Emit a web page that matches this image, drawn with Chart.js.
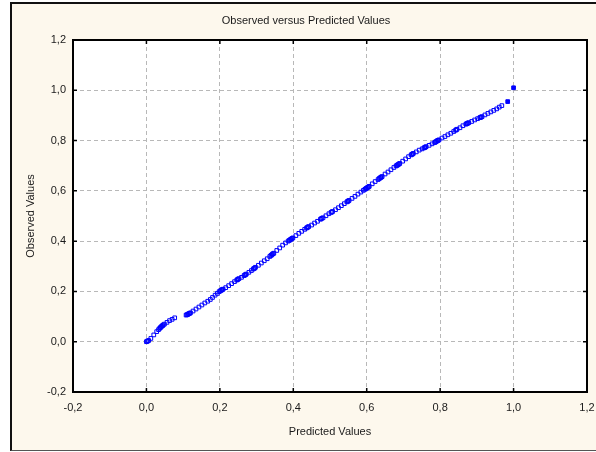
<!DOCTYPE html>
<html>
<head>
<meta charset="utf-8">
<title>Observed versus Predicted Values</title>
<script src="https://cdn.jsdelivr.net/npm/chart.js@4.4.1/dist/chart.umd.min.js"></script>
<style>
  html, body { margin: 0; padding: 0; background: #fff; overflow: hidden; }
  #panel {
    position: absolute; left: 10px; top: 2px; width: 584px; height: 446px;
    background: #fdf8ed; border-left: 2px solid #111; border-top: 2px solid #111;
    border-bottom: 1px solid #555;
  }
  #wrap { position: absolute; left: 0; top: 0; width: 596px; height: 452px; }
</style>
</head>
<body>
<div id="panel"></div>
<div id="wrap"><canvas id="chart" width="596" height="452"></canvas></div>
<script>
// Chart texts
const chartTitle = 'Observed versus Predicted Values';
const xTitle = 'Predicted Values';
const yTitle = 'Observed Values';

// Axis ranges / tick step
const axisMin = -0.2;
const axisMax = 1.2;
const tickStep = 0.2;

// Predicted values (x)
const predicted = [
  0.000, 0.002, 0.004, 0.006, 0.012, 0.020, 0.028, 0.033, 0.036, 0.038,
  0.040, 0.042, 0.044, 0.046, 0.049, 0.056, 0.063, 0.070, 0.077,
  0.108, 0.110, 0.112, 0.114, 0.116, 0.118, 0.120, 0.127, 0.135, 0.143,
  0.151, 0.159, 0.167, 0.174, 0.180, 0.187, 0.193, 0.198, 0.201, 0.203,
  0.205, 0.207, 0.209, 0.216, 0.224, 0.232, 0.240, 0.246, 0.248, 0.250,
  0.252, 0.259, 0.266, 0.268, 0.270, 0.272, 0.279, 0.286, 0.291, 0.293,
  0.295, 0.297, 0.305, 0.313, 0.321, 0.329, 0.336, 0.339, 0.341, 0.343,
  0.345, 0.347, 0.355, 0.363, 0.371, 0.379, 0.386, 0.389, 0.391, 0.393,
  0.395, 0.397, 0.399, 0.407, 0.415, 0.423, 0.431, 0.436, 0.438, 0.440,
  0.442, 0.450, 0.458, 0.466, 0.474, 0.476, 0.478, 0.481, 0.489, 0.497,
  0.503, 0.505, 0.507, 0.515, 0.523, 0.531, 0.539, 0.546, 0.548, 0.550,
  0.552, 0.560, 0.568, 0.576, 0.584, 0.591, 0.595, 0.597, 0.599, 0.601,
  0.603, 0.605, 0.607, 0.615, 0.623, 0.631, 0.634, 0.636, 0.638, 0.640,
  0.642, 0.650, 0.658, 0.666, 0.674, 0.680, 0.682, 0.684, 0.686, 0.688,
  0.690, 0.698, 0.706, 0.714, 0.721, 0.723, 0.725, 0.727, 0.735, 0.743,
  0.751, 0.756, 0.758, 0.760, 0.762, 0.770, 0.778, 0.785, 0.787, 0.789,
  0.791, 0.793, 0.795, 0.797, 0.805, 0.813, 0.821, 0.829, 0.837, 0.842,
  0.844, 0.846, 0.854, 0.862, 0.870, 0.872, 0.874, 0.876, 0.878, 0.886,
  0.894, 0.902, 0.908, 0.910, 0.912, 0.914, 0.922, 0.930, 0.938, 0.946,
  0.954, 0.961, 0.968, 0.984, 1.000
];

// Observed values (y), same order as predicted
const observed = [
  0.000, 0.002, 0.003, 0.005, 0.013, 0.027, 0.040, 0.048, 0.053, 0.056,
  0.059, 0.062, 0.064, 0.067, 0.070, 0.077, 0.084, 0.089, 0.095,
  0.106, 0.107, 0.108, 0.110, 0.112, 0.113, 0.115, 0.122, 0.130, 0.138,
  0.146, 0.154, 0.161, 0.168, 0.176, 0.185, 0.192, 0.199, 0.202, 0.204,
  0.206, 0.208, 0.209, 0.215, 0.223, 0.231, 0.239, 0.245, 0.247, 0.249,
  0.251, 0.256, 0.263, 0.265, 0.267, 0.269, 0.276, 0.283, 0.289, 0.291,
  0.293, 0.296, 0.304, 0.313, 0.322, 0.330, 0.339, 0.343, 0.345, 0.348,
  0.350, 0.352, 0.363, 0.373, 0.384, 0.393, 0.400, 0.403, 0.405, 0.407,
  0.409, 0.411, 0.413, 0.422, 0.431, 0.439, 0.447, 0.452, 0.454, 0.456,
  0.458, 0.464, 0.472, 0.479, 0.487, 0.489, 0.491, 0.493, 0.501, 0.509,
  0.514, 0.516, 0.518, 0.525, 0.533, 0.541, 0.549, 0.556, 0.558, 0.560,
  0.562, 0.570, 0.578, 0.587, 0.595, 0.602, 0.606, 0.608, 0.610, 0.612,
  0.614, 0.616, 0.618, 0.628, 0.637, 0.645, 0.649, 0.651, 0.653, 0.655,
  0.657, 0.667, 0.675, 0.684, 0.693, 0.699, 0.701, 0.703, 0.705, 0.707,
  0.709, 0.718, 0.727, 0.736, 0.743, 0.745, 0.747, 0.749, 0.755, 0.762,
  0.767, 0.771, 0.772, 0.774, 0.776, 0.781, 0.787, 0.792, 0.794, 0.796,
  0.798, 0.800, 0.801, 0.803, 0.810, 0.816, 0.823, 0.829, 0.836, 0.841,
  0.843, 0.845, 0.851, 0.859, 0.865, 0.867, 0.868, 0.870, 0.871, 0.876,
  0.882, 0.887, 0.891, 0.892, 0.894, 0.895, 0.902, 0.908, 0.914, 0.920,
  0.926, 0.933, 0.939, 0.955, 1.010
];

// the two isolated end points show as solid squares
const solidFrom = predicted.length - 2;

const points = predicted.map((x, i) => ({ x: x, y: observed[i] }));

const labelFont = { family: '"Liberation Sans", Arial, sans-serif', size: 11 };
const textColor = '#1a1a1a';
const gridColor = '#b8b8b8';
const markColor = '#0000ff';

// comma decimal ticks, e.g. "-0,2"
function fmt(v) {
  if (Math.abs(v) < 1e-9) v = 0;
  return v.toFixed(1).replace('.', ',');
}

// white plot area, black frame, inward tick marks and the title
const framePlugin = {
  id: 'frame',
  beforeDraw(chart) {
    const { ctx, chartArea: a } = chart;
    ctx.save();
    ctx.fillStyle = '#ffffff';
    ctx.fillRect(a.left, a.top, a.right - a.left, a.bottom - a.top);
    ctx.restore();
  },
  afterDatasetsDraw(chart) {
    const { ctx, chartArea: a, scales } = chart;
    ctx.save();
    ctx.strokeStyle = '#000';
    ctx.lineWidth = 2;
    ctx.strokeRect(a.left, a.top, a.right - a.left, a.bottom - a.top);

    ctx.lineWidth = 1.5;
    ctx.beginPath();
    scales.x.ticks.forEach(t => {
      const px = scales.x.getPixelForValue(t.value);
      ctx.moveTo(px, a.top); ctx.lineTo(px, a.top + 4);
      ctx.moveTo(px, a.bottom); ctx.lineTo(px, a.bottom - 4);
    });
    scales.y.ticks.forEach(t => {
      const py = scales.y.getPixelForValue(t.value);
      ctx.moveTo(a.left, py); ctx.lineTo(a.left + 4, py);
      ctx.moveTo(a.right, py); ctx.lineTo(a.right - 4, py);
    });
    ctx.stroke();

    ctx.fillStyle = textColor;
    ctx.font = '11px "Liberation Sans", Arial, sans-serif';
    ctx.textAlign = 'center';
    ctx.textBaseline = 'middle';
    ctx.fillText(chartTitle, chart.width / 2 + 8, 21);
    ctx.restore();
  }
};

const ctx = document.getElementById('chart').getContext('2d');
new Chart(ctx, {
  type: 'scatter',
  data: {
    datasets: [{
      label: 'Observed',
      data: points,
      pointStyle: 'rect',
      pointRadius: 2.6,
      pointHoverRadius: 2.6,
      borderWidth: 1,
      borderColor: markColor,
      backgroundColor: c => (c.dataIndex >= solidFrom ? markColor : 'rgba(0,0,0,0)')
    }]
  },
  options: {
    responsive: false,
    animation: false,
    layout: { padding: { top: 40, right: 9, left: 0, bottom: 0 } },
    plugins: {
      legend: { display: false },
      tooltip: { enabled: false }
    },
    scales: {
      x: {
        type: 'linear',
        min: axisMin,
        max: axisMax,
        ticks: { stepSize: tickStep, callback: fmt, font: labelFont, color: textColor, padding: 9, maxRotation: 0 },
        grid: { color: gridColor, drawTicks: false },
        border: { display: false, dash: [4, 3] },
        title: { display: true, text: xTitle, font: labelFont, color: textColor, padding: { top: 0, bottom: 13 } },
        afterFit(s) {
          s.height = 60;
          s.paddingLeft = 0; s.paddingRight = 0;
        }
      },
      y: {
        type: 'linear',
        min: axisMin,
        max: axisMax,
        ticks: { stepSize: tickStep, callback: fmt, font: labelFont, color: textColor, padding: 7 },
        grid: { color: gridColor, drawTicks: false },
        border: { display: false, dash: [4, 3] },
        title: { display: true, text: yTitle, font: labelFont, color: textColor, padding: { top: 24, bottom: 0 } },
        afterFit(s) {
          s.width = 73;
          s.paddingTop = 0; s.paddingBottom = 0;
        }
      }
    }
  },
  plugins: [framePlugin]
});
</script>
</body>
</html>
